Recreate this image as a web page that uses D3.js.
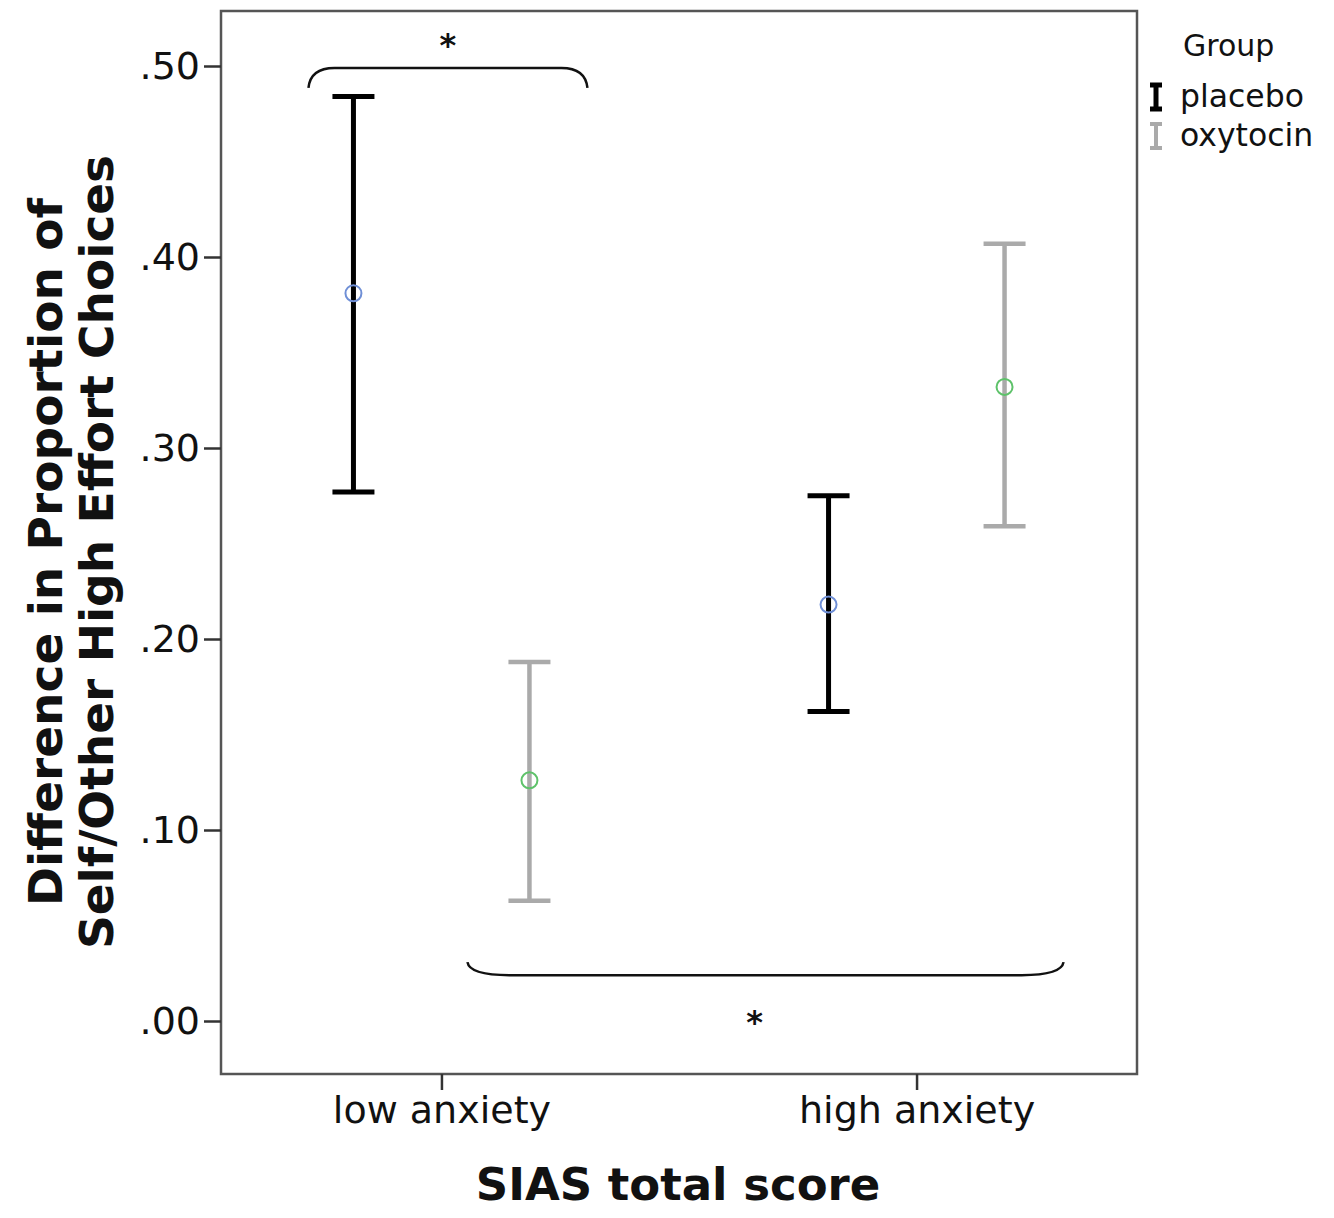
<!DOCTYPE html>
<html>
<head>
<meta charset="utf-8">
<script src="https://cdn.jsdelivr.net/npm/d3@7"></script>
<style>
  body { margin: 0; background: #fff; }
  text { font-family: "DejaVu Sans", sans-serif; fill: #111; }
</style>
</head>
<body>
<div id="chart"></div>
<script>
const categories = ["low anxiety", "high anxiety"];
const groups = ["placebo", "oxytocin"];
const means = [[0.381, 0.126], [0.218, 0.332]];
const lower = [[0.277, 0.063], [0.162, 0.259]];
const upper = [[0.484, 0.188], [0.275, 0.407]];
const yTicks = [0, 0.1, 0.2, 0.3, 0.4, 0.5];
const yTickLabels = [".00", ".10", ".20", ".30", ".40", ".50"];
// significance brackets between two bars ([category, group]) at a y value
const brackets = [
  { from: [0, 0], to: [0, 1], y: 0.499 },
  { from: [0, 1], to: [1, 1], y: 0.024 }
];

const width = 1334;
const height = 1218;
const plotLeft = 221, plotRight = 1137, plotTop = 11, plotBottom = 1074;

const groupColor = { placebo: "#000", oxytocin: "#aaa" };
const pointColor = { placebo: "#6f8fd6", oxytocin: "#5ec26a" };

const svg = d3.select("#chart").append("svg")
  .attr("width", width)
  .attr("height", height);

const y = d3.scaleLinear()
  .domain([0, 0.5])
  .range([1021, 66]);

const x = d3.scalePoint()
  .domain(categories)
  .range([plotLeft, plotRight])
  .padding(0.464);

const xg = d3.scalePoint()
  .domain(groups)
  .range([-88, 88]);

const xpos = (ci, gi) => x(categories[ci]) + xg(groups[gi]);

// frame
svg.append("rect")
  .attr("x", plotLeft)
  .attr("y", plotTop)
  .attr("width", plotRight - plotLeft)
  .attr("height", plotBottom - plotTop)
  .attr("fill", "none")
  .attr("stroke", "#555")
  .attr("stroke-width", 2.5);

const yAxis = svg.append("g")
  .attr("transform", `translate(${plotLeft},0)`)
  .call(d3.axisLeft(y).tickValues(yTicks)
    .tickFormat((d, i) => yTickLabels[i])
    .tickSize(17).tickPadding(4));
yAxis.select(".domain").remove();
yAxis.selectAll("line").attr("stroke", "#333").attr("stroke-width", 2.5);
yAxis.selectAll("text").attr("font-size", 38).attr("fill", "#111")
  .attr("font-family", "DejaVu Sans");

const xAxis = svg.append("g")
  .attr("transform", `translate(0,${plotBottom})`)
  .call(d3.axisBottom(x).tickSize(16).tickPadding(6));
xAxis.select(".domain").remove();
xAxis.selectAll("line").attr("stroke", "#333").attr("stroke-width", 2.5);
xAxis.selectAll("text").attr("font-size", 38).attr("fill", "#111")
  .attr("font-family", "DejaVu Sans");

// error bars
const rows = [];
categories.forEach((c, ci) => {
  groups.forEach((g, gi) => {
    rows.push({ ci, gi, g, m: means[ci][gi], lo: lower[ci][gi], hi: upper[ci][gi] });
  });
});

const bars = svg.append("g");
rows.forEach((d) => {
  const cx = xpos(d.ci, d.gi);
  const sw = d.g === "placebo" ? 5 : 4.5;
  const cap = 21;
  bars.append("line")
    .attr("x1", cx).attr("x2", cx)
    .attr("y1", y(d.lo)).attr("y2", y(d.hi))
    .attr("stroke", groupColor[d.g]).attr("stroke-width", sw);
  [d.lo, d.hi].forEach((v) => {
    bars.append("line")
      .attr("x1", cx - cap).attr("x2", cx + cap)
      .attr("y1", y(v)).attr("y2", y(v))
      .attr("stroke", groupColor[d.g]).attr("stroke-width", sw);
  });
  bars.append("circle")
    .attr("cx", cx).attr("cy", y(d.m))
    .attr("r", 8)
    .attr("fill", "none")
    .attr("stroke", pointColor[d.g])
    .attr("stroke-width", 2);
});

// brackets: top one hooks down, bottom one hooks up
const bracketStyle = [
  { padL: 45, padR: 58, hook: 20, run: 26, starDx: 0, starDy: -12 },
  { padL: 62, padR: 59, hook: -13, run: 42, starDx: -11, starDy: 58 }
];
brackets.forEach((b, i) => {
  const s = bracketStyle[i];
  const x1 = xpos(b.from[0], b.from[1]) - s.padL;
  const x2 = xpos(b.to[0], b.to[1]) + s.padR;
  const yy = y(b.y);
  const p = d3.path();
  p.moveTo(x1, yy + s.hook);
  p.quadraticCurveTo(x1 + 2, yy, x1 + s.run, yy);
  p.lineTo(x2 - s.run, yy);
  p.quadraticCurveTo(x2 - 2, yy, x2, yy + s.hook);
  svg.append("path")
    .attr("d", p.toString())
    .attr("fill", "none")
    .attr("stroke", "#111")
    .attr("stroke-width", 2.5);
  svg.append("text")
    .attr("x", (x1 + x2) / 2 + s.starDx)
    .attr("y", yy + s.starDy)
    .attr("text-anchor", "middle")
    .attr("font-size", 32)
    .attr("font-weight", "bold")
    .text("*");
});

// axis titles
svg.append("text")
  .attr("transform", "translate(678,1200)")
  .attr("text-anchor", "middle")
  .attr("font-size", 45)
  .attr("font-weight", "bold")
  .text("SIAS total score");

const yTitle = svg.append("text")
  .attr("transform", "translate(0,552) rotate(-90)")
  .attr("text-anchor", "middle")
  .attr("font-size", 47)
  .attr("font-weight", "bold");
yTitle.append("tspan").attr("x", 0).attr("y", 62).text("Difference in Proportion of");
yTitle.append("tspan").attr("x", 0).attr("y", 113).text("Self/Other High Effort Choices");

// legend
const legend = svg.append("g").attr("transform", "translate(1148,0)");
legend.append("text")
  .attr("x", 35).attr("y", 56)
  .attr("font-size", 30)
  .text("Group");
groups.forEach((g, i) => {
  const ly = 97 + i * 39;
  const sw = g === "placebo" ? 5 : 4;
  legend.append("line").attr("x1", 8).attr("x2", 8).attr("y1", ly - 12).attr("y2", ly + 12)
    .attr("stroke", groupColor[g]).attr("stroke-width", sw);
  [ly - 12, ly + 12].forEach((v) => {
    legend.append("line").attr("x1", 2).attr("x2", 14).attr("y1", v).attr("y2", v)
      .attr("stroke", groupColor[g]).attr("stroke-width", sw);
  });
  legend.append("text")
    .attr("x", 32).attr("y", ly + 10)
    .attr("font-size", 31.5)
    .text(g);
});
</script>
</body>
</html>
